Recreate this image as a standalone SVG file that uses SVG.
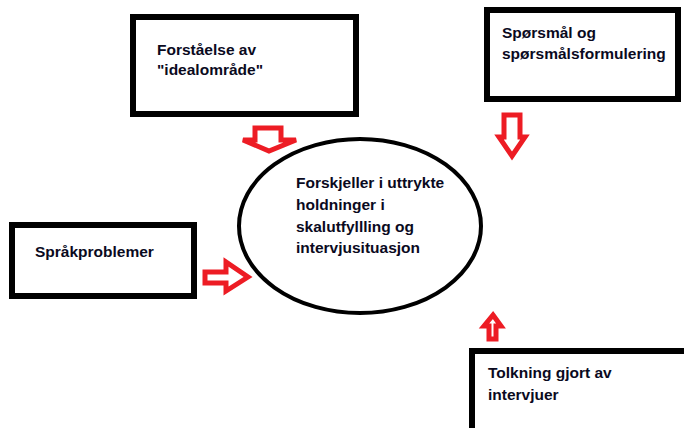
<svg xmlns="http://www.w3.org/2000/svg" width="684" height="428" viewBox="0 0 684 428">
<style>
.box{fill:#fff;stroke:#000;stroke-width:6}
.ell{fill:#fff;stroke:#000;stroke-width:4}
.arr{fill:#fff;stroke:#ed1c24;stroke-width:5;stroke-linejoin:miter}
text{font-family:"Liberation Sans",Arial,sans-serif;font-weight:bold;font-size:15.5px;fill:#0a0a1e}
</style>
<rect width="684" height="428" fill="#fff"/>
<g id="node-idealomrade">
<rect class="box" x="133" y="17" width="223" height="97"/>
<text x="157" y="55">Forståelse av</text>
<text x="157" y="75">"idealområde"</text>
</g>
<g id="node-sporsmal">
<rect class="box" x="487" y="10" width="191" height="89"/>
<text x="502" y="38">Spørsmål og</text>
<text x="502" y="59">spørsmålsformulering</text>
</g>
<g id="node-sprak">
<rect class="box" x="12" y="225" width="182" height="71"/>
<text x="35" y="257">Språkproblemer</text>
</g>
<g id="node-tolkning">
<rect class="box" x="472" y="351" width="220" height="100"/>
<text x="488" y="378">Tolkning gjort av</text>
<text x="488" y="400">intervjuer</text>
</g>
<g id="node-center">
<ellipse class="ell" cx="360" cy="226" rx="121" ry="87"/>
<text x="296" y="188">Forskjeller i uttrykte</text>
<text x="296" y="210">holdninger i</text>
<text x="296" y="232">skalutfyllling og</text>
<text x="296" y="253">intervjusituasjon</text>
</g>
<g id="connectors">
<polygon class="arr" points="255,128 281,128 281,140 296,140 269,151 243,140 255,140"/>
<polygon class="arr" points="504,115 520,115 520,137 525,137 512,156 499,137 504,137"/>
<polygon class="arr" points="205,272 226,272 226,262 248,277 226,291 226,283 205,283"/>
<polygon class="arr" points="493,315 501,326 496,326 496,339 489,339 489,326 484,326"/>
</g>
</svg>
